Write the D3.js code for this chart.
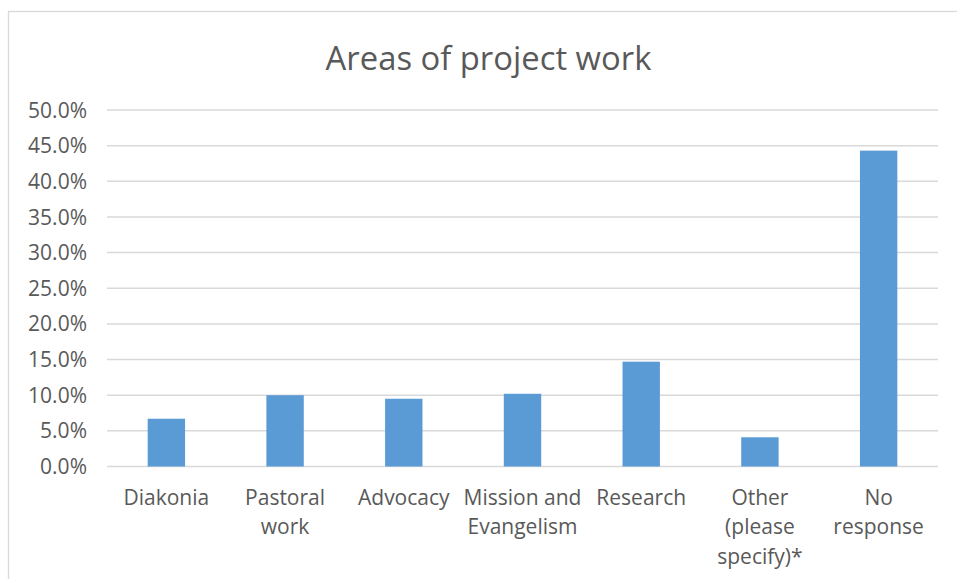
<!DOCTYPE html>
<html>
<head>
<meta charset="utf-8">
<script src="https://cdn.jsdelivr.net/npm/d3@7"></script>
<style>
  html, body { margin: 0; padding: 0; background: #fff; }
  svg { display: block; font-family: "Open Sans", "Noto Sans", sans-serif; }
</style>
</head>
<body>
<div id="chart"></div>
<script>
// Areas of project work - share of responses
const categories = ["Diakonia", "Pastoral work", "Advocacy", "Mission and Evangelism",
                    "Research", "Other (please specify)*", "No response"]
const labelLines = [["Diakonia"], ["Pastoral", "work"], ["Advocacy"], ["Mission and", "Evangelism"],
                    ["Research"], ["Other", "(please", "specify)*"], ["No", "response"]]
const values = [6.7, 10.0, 9.5, 10.2, 14.7, 4.1, 44.3]
const yTicks = [0, 5, 10, 15, 20, 25, 30, 35, 40, 45, 50]

const width = 957, height = 579
const plot = {left: 107, right: 938, top: 110, bottom: 466.5}
const textColor = "#595959"
const gridColor = "#d9d9d9"

const svg = d3.select("#chart").append("svg")
    .attr("width", width)
    .attr("height", height)

// chart frame (only top/left edges are visible in the window)
svg.append("rect")
    .attr("x", 8.5)
    .attr("y", 11.5)
    .attr("width", width + 20)
    .attr("height", height + 20)
    .style("fill", "none")
    .style("stroke", gridColor)
    .style("stroke-width", 1.3)

svg.append("text")
    .attr("x", (plot.left + plot.right) / 2 - 34)
    .attr("y", 70)
    .attr("text-anchor", "middle")
    .style("font-size", "32.8px")
    .style("fill", textColor)
    .text("Areas of project work")

const x = d3.scaleBand()
    .domain(categories)
    .range([plot.left, plot.right])
    .padding(0)

const y = d3.scaleLinear()
    .domain([0, 50])
    .range([plot.bottom, plot.top])

// gridlines
svg.append("g")
    .selectAll("line")
    .data(yTicks).enter()
    .append("line")
    .attr("x1", plot.left)
    .attr("x2", plot.right)
    .attr("y1", d => y(d))
    .attr("y2", d => y(d))
    .style("stroke", gridColor)
    .style("stroke-width", 1.5)

// y tick labels
svg.append("g")
    .selectAll("text")
    .data(yTicks).enter()
    .append("text")
    .attr("x", 87)
    .attr("y", d => y(d))
    .attr("dy", "0.36em")
    .attr("text-anchor", "end")
    .style("font-size", "21px")
    .style("fill", textColor)
    .text(d => d.toFixed(1) + "%")

// bars
const barW = x.bandwidth() * 0.315
svg.append("g")
    .selectAll("rect")
    .data(values).enter()
    .append("rect")
    .attr("x", (d, i) => x(categories[i]) + x.bandwidth() / 2 - barW / 2)
    .attr("y", d => y(d))
    .attr("width", barW)
    .attr("height", d => y(0) - y(d))
    .style("fill", "#5b9bd5")

// category labels
const lab = svg.append("g")
    .selectAll("text")
    .data(labelLines).enter()
    .append("text")
    .attr("text-anchor", "middle")
    .style("font-size", "21px")
    .style("fill", textColor)

lab.selectAll("tspan")
    .data((d, i) => d.map(t => ({t: t, i: i})))
    .enter()
    .append("tspan")
    .attr("x", d => x(categories[d.i]) + x.bandwidth() / 2)
    .attr("y", (d, j) => 504.5 + j * 29.5)
    .text(d => d.t)
</script>
</body>
</html>
